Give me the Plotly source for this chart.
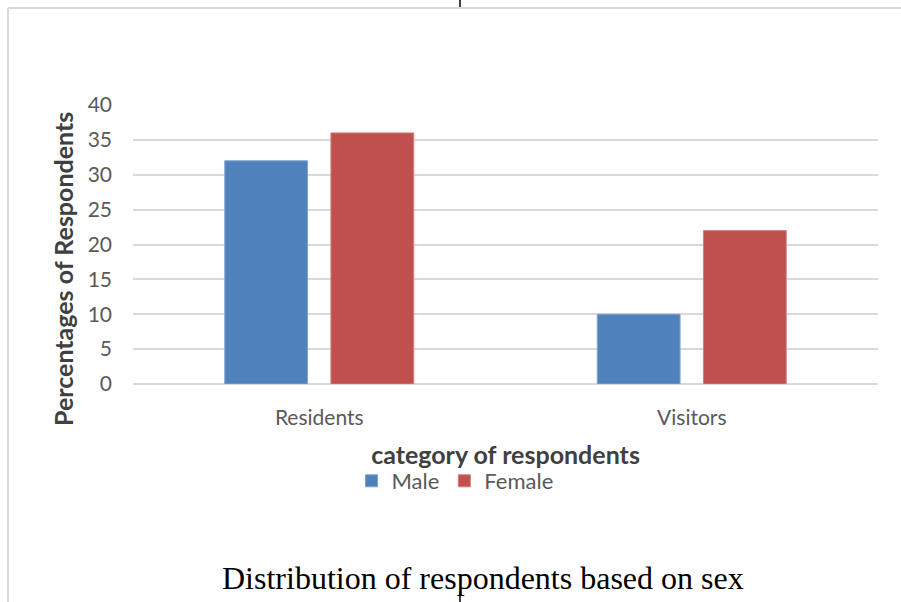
import plotly.graph_objects as go

# Survey breakdown by respondent category and sex (percent)
categories = ["Residents", "Visitors"]
male = [32, 10]
female = [36, 22]
y_ticks = [0, 5, 10, 15, 20, 25, 30, 35, 40]

W, H = 901, 602
L, R, T, B = 133, 23, 105, 218
pw, ph = W - L - R, H - T - B


def px_x(x):
    return (x - L) / pw


def px_y(y):
    return (H - B - y) / ph


fig = go.Figure()
fig.add_trace(go.Bar(name="Male", x=categories, y=male,
                     marker=dict(color="#4F81BD", line=dict(color="#7FA3CF", width=1))))
fig.add_trace(go.Bar(name="Female", x=categories, y=female,
                     marker=dict(color="#C0504D", line=dict(color="#D07F7D", width=1))))

sans = "Lato, Calibri, sans-serif"
tick_font = dict(family=sans, size=21, color="#595959")

fig.update_layout(
    width=W, height=H,
    margin=dict(l=L, r=R, t=T, b=B, autoexpand=False),
    paper_bgcolor="white", plot_bgcolor="white",
    barmode="group", bargap=0.43, bargroupgap=0.22,
    showlegend=True,
    legend=dict(orientation="h", x=px_x(455), xanchor="center",
                y=px_y(481), yanchor="middle",
                font=dict(family=sans, size=22, color="#595959"),
                itemwidth=30, traceorder="normal"),
    xaxis=dict(tickfont=tick_font, showgrid=False, showline=False, ticks="",
               ticklabelstandoff=19,
               title=dict(text="<b>category of respondents</b>",
                          font=dict(family=sans, size=25, color="#404040"),
                          standoff=18)),
    yaxis=dict(range=[0, 40], tickvals=y_ticks, tickfont=tick_font,
               showgrid=True, gridcolor="#D9D9D9", gridwidth=1.5,
               zeroline=True, zerolinecolor="#D9D9D9", zerolinewidth=1.5,
               showline=False, ticks="", ticklabelstandoff=20),
    annotations=[
        dict(text="<b>Percentages of Respondents</b>", textangle=-90,
             x=px_x(63), y=px_y(269), xref="paper", yref="paper",
             xanchor="center", yanchor="middle", showarrow=False,
             font=dict(family=sans, size=25, color="#404040")),
        dict(text="Distribution of respondents based on sex",
             x=px_x(483), y=px_y(578), xref="paper", yref="paper",
             xanchor="center", yanchor="middle", showarrow=False,
             font=dict(family="Liberation Serif, Times New Roman, serif", size=32,
                       color="black")),
    ],
    shapes=[
        # light frame around the chart object
        dict(type="line", xref="paper", yref="paper", x0=px_x(8), x1=px_x(W + 5),
             y0=px_y(8), y1=px_y(8), line=dict(color="#D9D9D9", width=2)),
        dict(type="line", xref="paper", yref="paper", x0=px_x(8), x1=px_x(8),
             y0=px_y(8), y1=px_y(H + 5), line=dict(color="#D9D9D9", width=2)),
        # page anchor marks
        dict(type="line", xref="paper", yref="paper", x0=px_x(460), x1=px_x(460),
             y0=px_y(-2), y1=px_y(7), line=dict(color="black", width=1.5)),
        dict(type="line", xref="paper", yref="paper", x0=px_x(460), x1=px_x(460),
             y0=px_y(593), y1=px_y(H + 2), line=dict(color="black", width=1.5)),
    ],
)

fig.write_html("out.html")
